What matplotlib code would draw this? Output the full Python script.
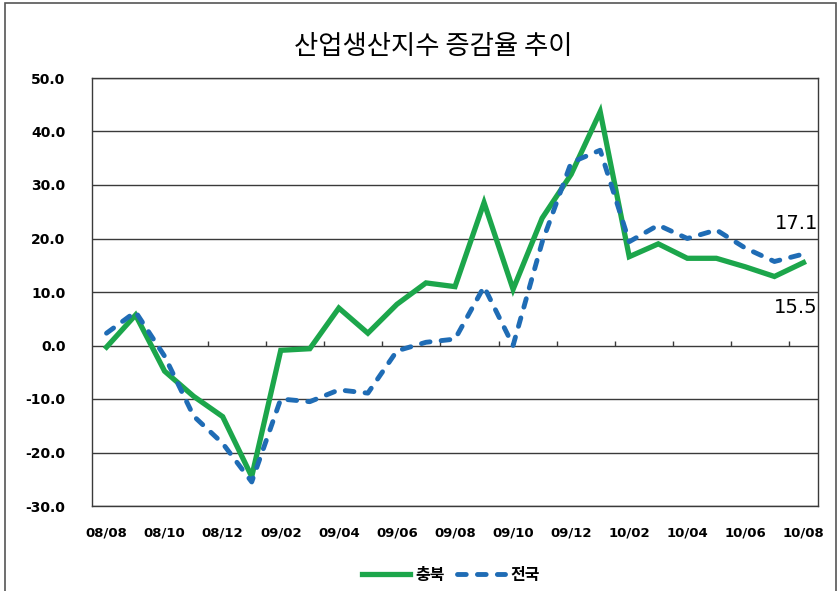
import matplotlib
matplotlib.use("Agg")
import matplotlib.pyplot as plt
from matplotlib.lines import Line2D
from matplotlib.patches import Rectangle

# monthly series 2008/08 .. 2010/08
months = ["08/08", "08/09", "08/10", "08/11", "08/12",
          "09/01", "09/02", "09/03", "09/04", "09/05", "09/06", "09/07",
          "09/08", "09/09", "09/10", "09/11", "09/12",
          "10/01", "10/02", "10/03", "10/04", "10/05", "10/06", "10/07", "10/08"]
chungbuk = [-0.3, 5.7, -4.8, -9.5, -13.3, -24.5, -0.9, -0.6, 7.0, 2.3, 7.7, 11.7, 11.0,
            26.7, 10.5, 23.8, 32.0, 43.7, 16.6, 19.0, 16.3, 16.3, 14.7, 12.9, 15.5]
national = [2.3, 6.3, -2.0, -13.2, -18.3, -25.5, -10.0, -10.5, -8.3, -8.9, -1.0, 0.6, 1.2,
            11.0, 0.0, 19.3, 34.2, 36.5, 19.4, 22.5, 20.0, 21.6, 18.2, 15.7, 17.1]
yticks = [-30, -20, -10, 0, 10, 20, 30, 40, 50]

title = "산업생산지수 증감율 추이"
kfont = ["Noto Sans CJK KR", "DejaVu Sans"]
green = "#1ca64b"
blue = "#1f6cb5"

fig = plt.figure(figsize=(8.4, 5.91), dpi=100)
ax = fig.add_axes([92 / 840, 1 - 506 / 591, 726 / 840, 428 / 591])

x = list(range(len(months)))
ax.plot(x, chungbuk, color=green, lw=3.8, solid_joinstyle="miter", zorder=3)
ax.plot(x, national, color=blue, lw=3.5, dashes=(1.8, 2.3),
        dash_capstyle="round", zorder=4)

ax.set_xlim(-0.5, len(months) - 0.5)
ax.set_ylim(-30, 50)
ax.set_yticks(yticks)
ax.set_yticklabels([f"{v:.1f}" for v in yticks])
ax.set_xticks(x[::2])
ax.set_xticklabels(months[::2])
ax.tick_params(axis="both", length=0, labelsize=9.5)
ax.tick_params(axis="y", labelsize=10, pad=19)
ax.tick_params(axis="x", pad=15)
for lab in ax.get_xticklabels() + ax.get_yticklabels():
    lab.set_fontweight("bold")
    lab.set_family("DejaVu Sans")

ax.grid(axis="y", color="#3a3a3a", lw=1.0, zorder=1)
for s in ax.spines.values():
    s.set_color("#3a3a3a")
    s.set_linewidth(1.0)

# category tick marks sitting on the zero line
bounds = [b + 0.5 for b in range(1, len(months) - 1, 2)]
ax.vlines(bounds, 0, 0.9, color="#3a3a3a", lw=1.0, zorder=2)

# end value labels (clipped by the plot edge as in the original)
ax.annotate(f"{national[-1]}", xy=(x[-1], national[-1]), xytext=(-29, 31),
            textcoords="offset pixels", ha="left", va="center", fontsize=14,
            family="DejaVu Sans", annotation_clip=False, clip_on=True)
ax.annotate(f"{chungbuk[-1]}", xy=(x[-1], chungbuk[-1]), xytext=(-30, -45),
            textcoords="offset pixels", ha="left", va="center", fontsize=14,
            family="DejaVu Sans", annotation_clip=False, clip_on=True)

fig.text(433 / 840, 1 - 47 / 591, title, ha="center", va="center",
         fontsize=19, family=kfont)

handles = [Line2D([], [], color=green, lw=3.8),
           Line2D([], [], color=blue, lw=3.5, dashes=(1.8, 2.3), dash_capstyle="round")]
fig.legend(handles, ["충북", "전국"], loc="center", bbox_to_anchor=(0.537, 0.027),
           ncol=2, frameon=False, handlelength=3.0, handletextpad=0.3,
           columnspacing=0.8, prop={"family": kfont, "weight": "bold", "size": 11.5})

# outer chart border
fig.patches.append(Rectangle((5 / 840, -0.05), 831 / 840, 1.05 - 3 / 591,
                             transform=fig.transFigure, fill=False,
                             edgecolor="#555555", lw=1.2))

fig.savefig("out.png", dpi=100)
